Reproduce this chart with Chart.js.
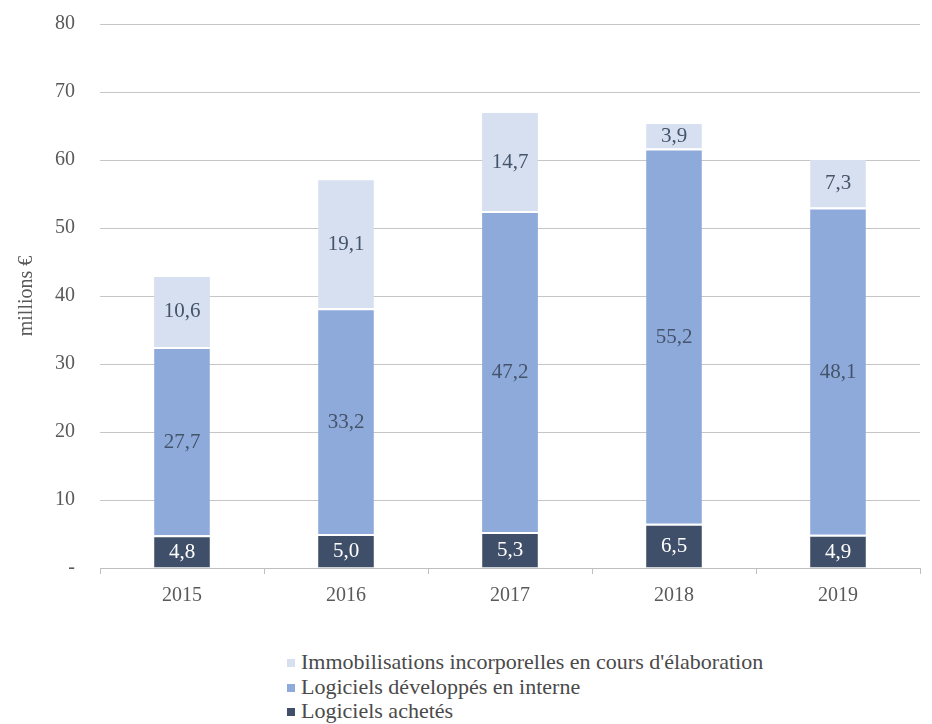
<!DOCTYPE html>
<html>
<head>
<meta charset="utf-8">
<script src="https://cdn.jsdelivr.net/npm/chart.js@4/dist/chart.umd.min.js"></script>
<style>
  html, body { margin: 0; padding: 0; background: #ffffff; }
  #wrap { position: relative; width: 932px; height: 724px; overflow: hidden; }
  #box { position: absolute; left: 0; top: 0; width: 932px; height: 640px; }
  #legend { position: absolute; left: 287px; top: 650px; font-family: "Liberation Serif", "Times New Roman", serif;
            font-size: 22px; color: #4a4a4a; line-height: 24.5px; }
  #legend .item { display: flex; align-items: center; white-space: nowrap; }
  #legend .sw { width: 8px; height: 8px; margin-right: 6px; margin-top: 2px; display: inline-block; }
</style>
</head>
<body>
<div id="wrap">
  <div id="box"><canvas id="c"></canvas></div>
  <div id="legend"></div>
</div>
<script>
// Années
const years = ['2015', '2016', '2017', '2018', '2019'];

// Logiciels achetés (millions €)
const achetes = [4.8, 5.0, 5.3, 6.5, 4.9];
// Logiciels développés en interne (millions €)
const interne = [27.7, 33.2, 47.2, 55.2, 48.1];
// Immobilisations incorporelles en cours d'élaboration (millions €)
const enCours = [10.6, 19.1, 14.7, 3.9, 7.3];

const seriesNames = [
  'Logiciels achetés',
  'Logiciels développés en interne',
  "Immobilisations incorporelles en cours d'élaboration"
];

const colors = ['#3f4f69', '#8eaadb', '#d7e0f1'];
const labelColors = ['#ffffff', '#44546a', '#44546a'];

const serif = '"Liberation Serif", "Times New Roman", serif';

// Writes each segment's value, French decimal comma, in the middle of the segment
const valueLabels = {
  id: 'valueLabels',
  afterDatasetsDraw(chart) {
    const ctx = chart.ctx;
    ctx.save();
    ctx.font = '21px ' + serif;
    ctx.textAlign = 'center';
    ctx.textBaseline = 'middle';
    chart.data.datasets.forEach((ds, i) => {
      const meta = chart.getDatasetMeta(i);
      meta.data.forEach((bar, j) => {
        const v = ds.data[j];
        const p = bar.getProps(['x', 'y', 'base'], true);
        ctx.fillStyle = labelColors[i];
        ctx.fillText(v.toFixed(1).replace('.', ','), p.x, (p.y + p.base) / 2 + 1);
      });
    });
    ctx.restore();
  }
};

const chart = new Chart(document.getElementById('c'), {
  type: 'bar',
  data: {
    labels: years,
    datasets: [
      { label: seriesNames[0], data: achetes, backgroundColor: colors[0] },
      { label: seriesNames[1], data: interne, backgroundColor: colors[1] },
      { label: seriesNames[2], data: enCours, backgroundColor: colors[2] }
    ].map(d => Object.assign(d, {
      borderColor: '#ffffff',
      borderWidth: { top: 2, left: 0, right: 0, bottom: 0 },
      borderSkipped: false,
      categoryPercentage: 1,
      barPercentage: 0.34
    }))
  },
  options: {
    responsive: true,
    maintainAspectRatio: false,
    animation: false,
    layout: { padding: { top: 24, right: 12, left: 0, bottom: 0 } },
    plugins: {
      legend: { display: false },
      tooltip: { enabled: false }
    },
    scales: {
      x: {
        stacked: true,
        grid: { drawOnChartArea: false, drawTicks: true, offset: true, tickLength: 6, color: '#bfbfbf' },
        border: { display: true, color: '#bfbfbf', width: 1 },
        ticks: { font: { family: serif, size: 20 }, color: '#595959', padding: 10 },
        afterFit(scale) { scale.height = 72; }
      },
      y: {
        stacked: true,
        min: 0,
        max: 80,
        ticks: {
          stepSize: 10,
          font: { family: serif, size: 20 },
          color: '#595959',
          padding: 3,
          callback: v => (v === 0 ? '-' : String(v))
        },
        // invisible tick marks keep the labels clear of the plot's left edge
        grid: { drawTicks: true, tickLength: 22, tickColor: 'rgba(0,0,0,0)', color: '#c6c6c6', lineWidth: 1 },
        border: { display: false },
        title: {
          display: true,
          text: 'millions €',
          font: { family: serif, size: 20 },
          color: '#595959',
          padding: { top: 15, bottom: 0 }
        },
        afterFit(scale) { scale.width = 100; }
      }
    }
  },
  plugins: [valueLabels]
});

// Legend listed top to bottom in reverse stacking order
const legend = document.getElementById('legend');
[2, 1, 0].forEach(i => {
  const row = document.createElement('div');
  row.className = 'item';
  const sw = document.createElement('span');
  sw.className = 'sw';
  sw.style.background = colors[i];
  const tx = document.createElement('span');
  tx.textContent = chart.data.datasets[i].label;
  row.appendChild(sw);
  row.appendChild(tx);
  legend.appendChild(row);
});
</script>
</body>
</html>
